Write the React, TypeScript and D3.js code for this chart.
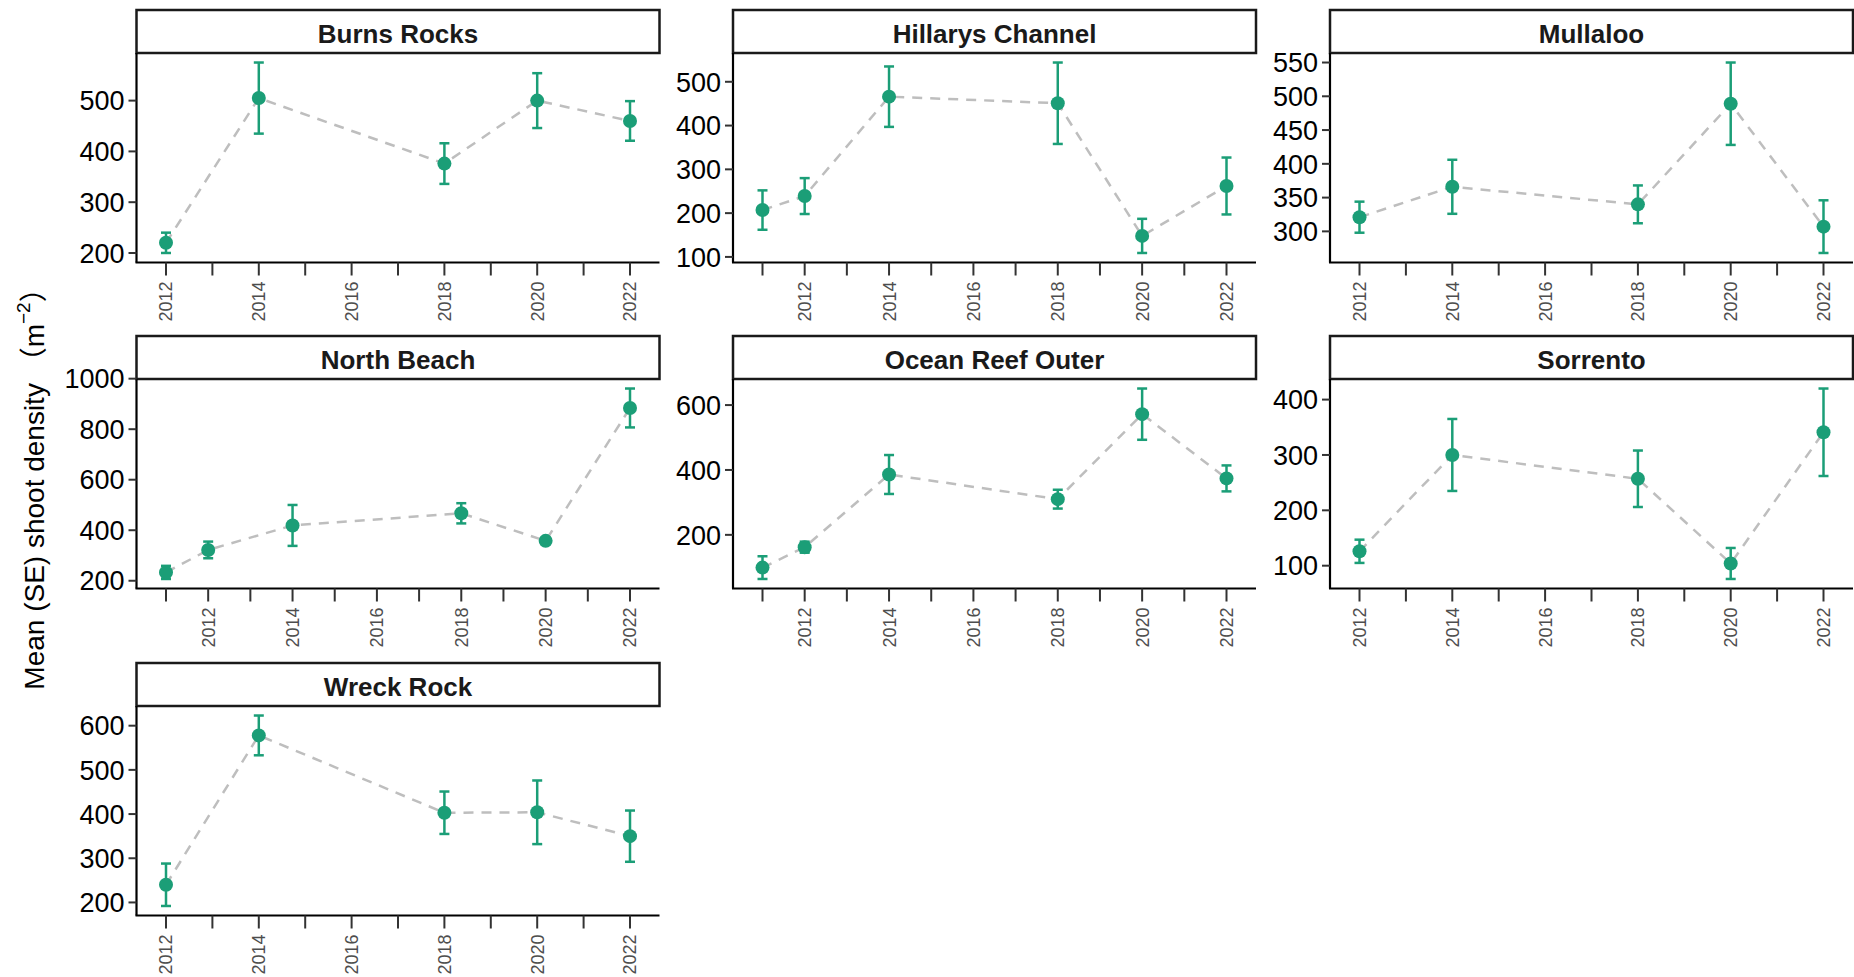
import React from "react";
import * as d3 from "d3";

const W = 1854;
const H = 977;

const siteNames = [
  "Burns Rocks",
  "Hillarys Channel",
  "Mullaloo",
  "North Beach",
  "Ocean Reef Outer",
  "Sorrento",
  "Wreck Rock",
];

// mean shoot density and SE per survey year
const burnsYears = [2012, 2014, 2018, 2020, 2022];
const burnsMean = [220, 505, 376, 500, 460];
const burnsSE = [20, 70, 40, 54, 39];
const burnsTicks = [200, 300, 400, 500];

const hillarysYears = [2011, 2012, 2014, 2018, 2020, 2022];
const hillarysMean = [207, 239, 466, 451, 148, 262];
const hillarysSE = [45, 41, 69, 93, 39, 65];
const hillarysTicks = [100, 200, 300, 400, 500];

const mullalooYears = [2012, 2014, 2018, 2020, 2022];
const mullalooMean = [321, 366, 340, 489, 307];
const mullalooSE = [23, 40, 28, 61, 39];
const mullalooTicks = [300, 350, 400, 450, 500, 550];

const northYears = [2011, 2012, 2014, 2018, 2020, 2022];
const northMean = [233, 322, 419, 467, 358, 884];
const northSE = [26, 33, 81, 40, 12, 77];
const northTicks = [200, 400, 600, 800, 1000];

const oceanYears = [2011, 2012, 2014, 2018, 2020, 2022];
const oceanMean = [99, 162, 386, 310, 572, 374];
const oceanSE = [35, 17, 60, 29, 79, 40];
const oceanTicks = [200, 400, 600];

const sorrentoYears = [2012, 2014, 2018, 2020, 2022];
const sorrentoMean = [126, 300, 257, 104, 341];
const sorrentoSE = [21, 65, 51, 28, 79];
const sorrentoTicks = [100, 200, 300, 400];

const wreckYears = [2012, 2014, 2018, 2020, 2022];
const wreckMean = [240, 578, 403, 404, 350];
const wreckSE = [48, 45, 48, 72, 58];
const wreckTicks = [200, 300, 400, 500, 600];

const sites = [
  { years: burnsYears, mean: burnsMean, se: burnsSE, ticks: burnsTicks },
  { years: hillarysYears, mean: hillarysMean, se: hillarysSE, ticks: hillarysTicks },
  { years: mullalooYears, mean: mullalooMean, se: mullalooSE, ticks: mullalooTicks },
  { years: northYears, mean: northMean, se: northSE, ticks: northTicks },
  { years: oceanYears, mean: oceanMean, se: oceanSE, ticks: oceanTicks },
  { years: sorrentoYears, mean: sorrentoMean, se: sorrentoSE, ticks: sorrentoTicks },
  { years: wreckYears, mean: wreckMean, se: wreckSE, ticks: wreckTicks },
].map((s, i) => ({ ...s, name: siteNames[i] }));

const colLeft = [136.5, 733, 1330];
const rowTop = [10, 336, 663];
const panelW = 523;
const stripH = 43;
const panelH = 209.5;
const xPad = 29.5;

const green = "#1b9e77";
const font = "'Liberation Sans', Arial, 'Noto Sans CJK SC', sans-serif";

function Panel({ site, idx }: { site: any; idx: number }) {
  const left = colLeft[idx % 3];
  const top = rowTop[Math.floor(idx / 3)];
  const pTop = top + stripH;
  const pBot = pTop + panelH;
  const right = left + panelW;

  const { years, mean, se, ticks, name } = site;
  const minYear = d3.min(years) as number;
  const maxYear = d3.max(years) as number;
  const x = d3.scaleLinear().domain([minYear, maxYear]).range([left + xPad, right - xPad]);

  const lo = d3.min(mean.map((m: number, j: number) => m - se[j])) as number;
  const hi = d3.max(mean.map((m: number, j: number) => m + se[j])) as number;
  const pad = (hi - lo) * 0.05;
  const y = d3.scaleLinear().domain([lo - pad, hi + pad]).range([pBot, pTop]);

  const yearTicks = d3.range(minYear, maxYear + 1);
  const line = d3
    .line<number>()
    .x((_d, j) => x(years[j]))
    .y((d) => y(d));

  return (
    <g>
      {/* strip */}
      <rect x={left} y={top} width={panelW} height={stripH} fill="#fff" stroke="#1a1a1a" strokeWidth={2.5} />
      <text
        x={left + panelW / 2}
        y={top + 32.5}
        textAnchor="middle"
        fontSize={26}
        fontWeight="bold"
        fill="#1a1a1a"
        fontFamily={font}
      >
        {name}
      </text>

      {/* dashed connecting line */}
      <path d={line(mean) || ""} fill="none" stroke="#bebebe" strokeWidth={2.5} strokeDasharray="10 8" />

      {/* error bars */}
      {mean.map((m: number, j: number) => {
        const cx = x(years[j]);
        return (
          <g key={"e" + j} stroke={green} strokeWidth={2.5}>
            <line x1={cx} x2={cx} y1={y(m - se[j])} y2={y(m + se[j])} />
            <line x1={cx - 5} x2={cx + 5} y1={y(m - se[j])} y2={y(m - se[j])} />
            <line x1={cx - 5} x2={cx + 5} y1={y(m + se[j])} y2={y(m + se[j])} />
          </g>
        );
      })}

      {/* points */}
      {mean.map((m: number, j: number) => (
        <circle key={"p" + j} cx={x(years[j])} cy={y(m)} r={7} fill={green} />
      ))}

      {/* y axis */}
      <line x1={left} x2={left} y1={pTop} y2={pBot} stroke="#000" strokeWidth={2.2} />
      {ticks.map((t: number) => (
        <g key={"y" + t}>
          <line x1={left - 8} x2={left} y1={y(t)} y2={y(t)} stroke="#333" strokeWidth={2} />
          <text
            x={left - 12}
            y={y(t)}
            dy="0.36em"
            textAnchor="end"
            fontSize={27}
            fill="#000"
            fontFamily={font}
          >
            {t}
          </text>
        </g>
      ))}

      {/* x axis */}
      <line x1={left - 1} x2={right} y1={pBot} y2={pBot} stroke="#000" strokeWidth={2.2} />
      {yearTicks.map((yr) => (
        <g key={"x" + yr}>
          <line x1={x(yr)} x2={x(yr)} y1={pBot} y2={pBot + 13} stroke="#333" strokeWidth={2} />
          {yr % 2 === 0 && (
            <text
              transform={`translate(${x(yr)},${pBot + 19}) rotate(-90)`}
              dy="0.36em"
              textAnchor="end"
              fontSize={18}
              fill="#4d4d4d"
              fontFamily={font}
            >
              {yr}
            </text>
          )}
        </g>
      ))}
    </g>
  );
}

export default function App() {
  return (
    <div style={{ position: "absolute", left: 0, top: 0 }}>
      <svg width={W} height={H} style={{ display: "block", background: "#fff" }}>
        {sites.map((s, i) => (
          <Panel key={s.name} site={s} idx={i} />
        ))}
        <text
          transform="translate(44,482) rotate(-90)"
          textAnchor="middle"
          fontSize={28}
          fill="#000"
          fontFamily={font}
        >
          Mean (SE) shoot density （m
          <tspan fontSize={19} dy={-14}>−2</tspan>
          <tspan dy={14}>）</tspan>
        </text>
      </svg>
    </div>
  );
}
